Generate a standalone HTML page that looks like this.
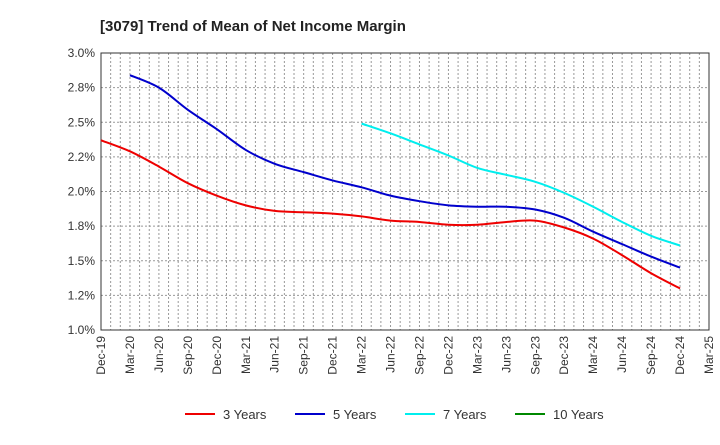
<!DOCTYPE html>
<html><head><meta charset="utf-8"><style>
body{margin:0;background:#fff;font-family:"Liberation Sans",sans-serif;}
</style></head><body>
<svg id="c" width="720" height="440" xmlns="http://www.w3.org/2000/svg">
<text x="100" y="31" font-size="15" font-weight="bold" fill="#222">[3079]  Trend of Mean of Net Income Margin</text>
<g id="grid"></g><g id="axes"></g><g id="series"></g><g id="legend"></g>
</svg>
<script>
const xLabels=["Dec-19","Mar-20","Jun-20","Sep-20","Dec-20","Mar-21","Jun-21","Sep-21","Dec-21","Mar-22","Jun-22","Sep-22","Dec-22","Mar-23","Jun-23","Sep-23","Dec-23","Mar-24","Jun-24","Sep-24","Dec-24","Mar-25"];
const yTicks=[1.0,1.25,1.5,1.75,2.0,2.25,2.5,2.75,3.0];
const yTickLabels=["1.0%","1.2%","1.5%","1.8%","2.0%","2.2%","2.5%","2.8%","3.0%"];
const s3=[2.37,2.29,2.18,2.06,1.97,1.90,1.86,1.85,1.84,1.82,1.79,1.78,1.76,1.76,1.78,1.79,1.74,1.66,1.54,1.41,1.30];
const s5=[null,2.84,2.75,2.59,2.45,2.30,2.20,2.14,2.08,2.03,1.97,1.93,1.90,1.89,1.89,1.87,1.81,1.71,1.62,1.53,1.45];
const s7=[null,null,null,null,null,null,null,null,null,2.49,2.42,2.34,2.26,2.17,2.12,2.07,1.99,1.89,1.78,1.68,1.61];
const s10=[];
const L=101,R=709,T=53,B=330;
const ns="http://www.w3.org/2000/svg";
const X=i=>L+(R-L)*i/(xLabels.length-1);
const Y=v=>B-(v-1.0)/(3.0-1.0)*(B-T);
function mk(p,t,a){const e=document.createElementNS(ns,t);for(const k in a)e.setAttribute(k,a[k]);p.appendChild(e);return e;}
const g=document.getElementById('grid'),ax=document.getElementById('axes'),se=document.getElementById('series'),lg=document.getElementById('legend');
for(let m=1;m<(xLabels.length-1)*3;m++){const x=L+(R-L)*m/((xLabels.length-1)*3);
const l=mk(g,'line',{x1:x,x2:x,y1:T,y2:B,stroke:'#999','stroke-dasharray':'2,2','stroke-width':1});

}
yTicks.forEach((v,i)=>{const y=Y(v);
if(i>0&&i<yTicks.length-1){const l=mk(g,'line',{x1:L,x2:R,y1:y,y2:y,stroke:'#999','stroke-dasharray':'2,2'});

}
const t=mk(ax,'text',{x:L-6,y:y+4,'text-anchor':'end','font-size':12,fill:'#333'});t.textContent=yTickLabels[i];

});
const fr=mk(ax,'rect',{x:L,y:T,width:R-L,height:B-T,fill:'none',stroke:'#333'});


xLabels.forEach((s,i)=>{const x=X(i);
const t=mk(ax,'text',{transform:`translate(${x+4},${B+6}) rotate(-90)`,'text-anchor':'end','font-size':12,fill:'#333'});t.textContent=s;

});
function line(d,c,n){const pts=[];d.forEach((v,i)=>{if(v!=null)pts.push([X(i),Y(v)]);});if(pts.length<2)return;
let p='M'+pts[0][0]+','+pts[0][1];
for(let i=0;i<pts.length-1;i++){const p0=pts[i-1]||pts[i],p1=pts[i],p2=pts[i+1],p3=pts[i+2]||p2;
p+=` C${p1[0]+(p2[0]-p0[0])/6},${p1[1]+(p2[1]-p0[1])/6} ${p2[0]-(p3[0]-p1[0])/6},${p2[1]-(p3[1]-p1[1])/6} ${p2[0]},${p2[1]}`;}
const e=mk(se,'path',{d:p,fill:'none',stroke:c,'stroke-width':2});

}
line(s3,'#e00','series-3-years');line(s5,'#00c','series-5-years');line(s7,'#0ee','series-7-years');line(s10,'#080','series-10-years');
[['3 Years','#e00',185],['5 Years','#00c',295],['7 Years','#0ee',405],['10 Years','#080',515]].forEach(([n,c,x])=>{
const l=mk(lg,'line',{x1:x,x2:x+30,y1:414,y2:414,stroke:c,'stroke-width':2});


const t=mk(lg,'text',{x:x+38,y:419,'font-size':13,fill:'#333'});t.textContent=n;

});
</script>
</body></html>
